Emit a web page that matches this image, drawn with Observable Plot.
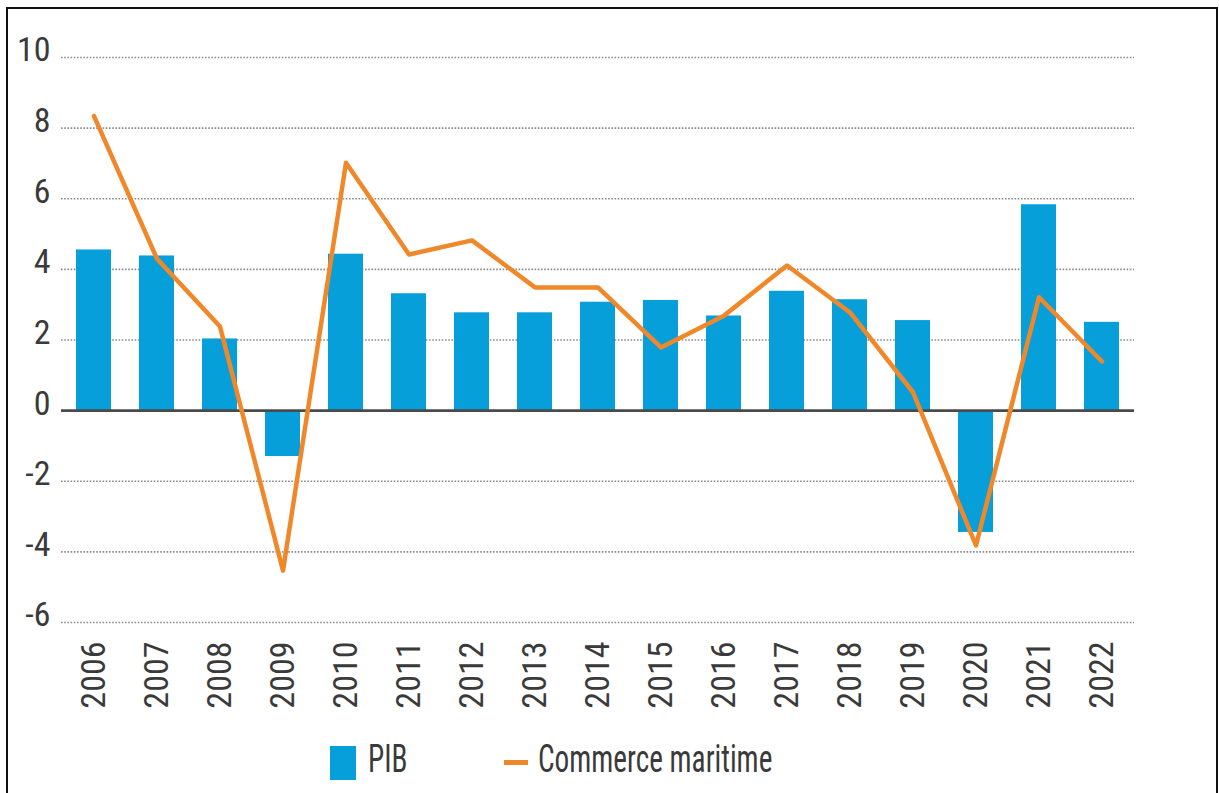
<!DOCTYPE html>
<html>
<head>
<meta charset="utf-8">
<script src="https://cdn.jsdelivr.net/npm/d3@7"></script>
<script src="https://cdn.jsdelivr.net/npm/@observablehq/plot@0.6"></script>
<style>
  html, body { margin: 0; padding: 0; background: #fff; }
  body { width: 1219px; height: 793px; overflow: hidden; position: relative;
         font-family: 'Liberation Sans Narrow', 'Roboto Condensed', 'DejaVu Sans Condensed', sans-serif; color: #3a3a3a; }
  #frame { position: absolute; left: 6px; top: 7px; width: 1208px; height: 800px;
           border: 2.5px solid #111; border-bottom: none; pointer-events: none; }
  #chart { position: absolute; left: 0; top: 0; }
  #legend { position: absolute; left: 0; top: 0; width: 1219px; height: 793px; pointer-events: none; }
  #legend .sw-bar { position: absolute; left: 330px; top: 746px; width: 26px; height: 34px; background: #079fda; }
  #legend .sw-line { position: absolute; left: 504px; top: 760px; width: 24px; height: 4.5px; background: #f0882a; }
  #legend .lbl { position: absolute; top: 740px; font-size: 39px; line-height: 39px; white-space: nowrap;
                 transform: scaleX(0.75); transform-origin: left center; color: #3a3a3a; }
</style>
</head>
<body>
<div id="chart"></div>
<div id="legend">
  <span class="sw-bar"></span><span class="lbl" style="left:368px">PIB</span>
  <span class="sw-line"></span><span class="lbl" style="left:538px">Commerce maritime</span>
</div>
<div id="frame"></div>
<script>
const years = ["2006","2007","2008","2009","2010","2011","2012","2013","2014","2015","2016","2017","2018","2019","2020","2021","2022"];
const pib = [4.55, 4.38, 2.03, -1.30, 4.43, 3.31, 2.77, 2.77, 3.07, 3.12, 2.68, 3.38, 3.14, 2.55, -3.45, 5.83, 2.50];
const commerce = [8.34, 4.30, 2.38, -4.53, 7.02, 4.42, 4.82, 3.49, 3.49, 1.79, 2.69, 4.11, 2.78, 0.52, -3.82, 3.21, 1.39];
const yTicks = [-6, -4, -2, 0, 2, 4, 6, 8, 10];

const data = years.map((year, i) => ({year, pib: pib[i], commerce: commerce[i]}));
const font = "'Liberation Sans Narrow', 'Roboto Condensed', 'DejaVu Sans Condensed', sans-serif";

const chart = Plot.plot({
  width: 1219,
  height: 720,
  marginLeft: 61,
  marginRight: 85,
  marginTop: 57,
  marginBottom: 98,
  style: {fontFamily: font, fontSize: "34px", color: "#3a3a3a", background: "transparent"},
  x: {domain: years, paddingInner: 0.446, paddingOuter: 0.223, label: null},
  y: {domain: [-6, 10], label: null},
  marks: [
    Plot.gridY(yTicks.filter(d => d !== 0), {stroke: "#8c8c8c", strokeOpacity: 1, strokeWidth: 1.6, strokeDasharray: "1.6,1.6"}),
    Plot.barY(data, {x: "year", y: "pib", fill: "#079fda"}),
    Plot.ruleY([0], {stroke: "#4a4a4a", strokeWidth: 2.8}),
    Plot.lineY(data, {x: "year", y: "commerce", stroke: "#f0882a", strokeWidth: 4.5}),
    Plot.axisY(yTicks, {tickSize: 0, tickPadding: 11, dy: -7, fontSize: 34, label: null, tickFormat: d => String(d)}),
    Plot.axisX({tickSize: 0, tickRotate: -90, tickPadding: 19, fontSize: 34, label: null})
  ]
});
document.getElementById("chart").appendChild(chart);
</script>
</body>
</html>
